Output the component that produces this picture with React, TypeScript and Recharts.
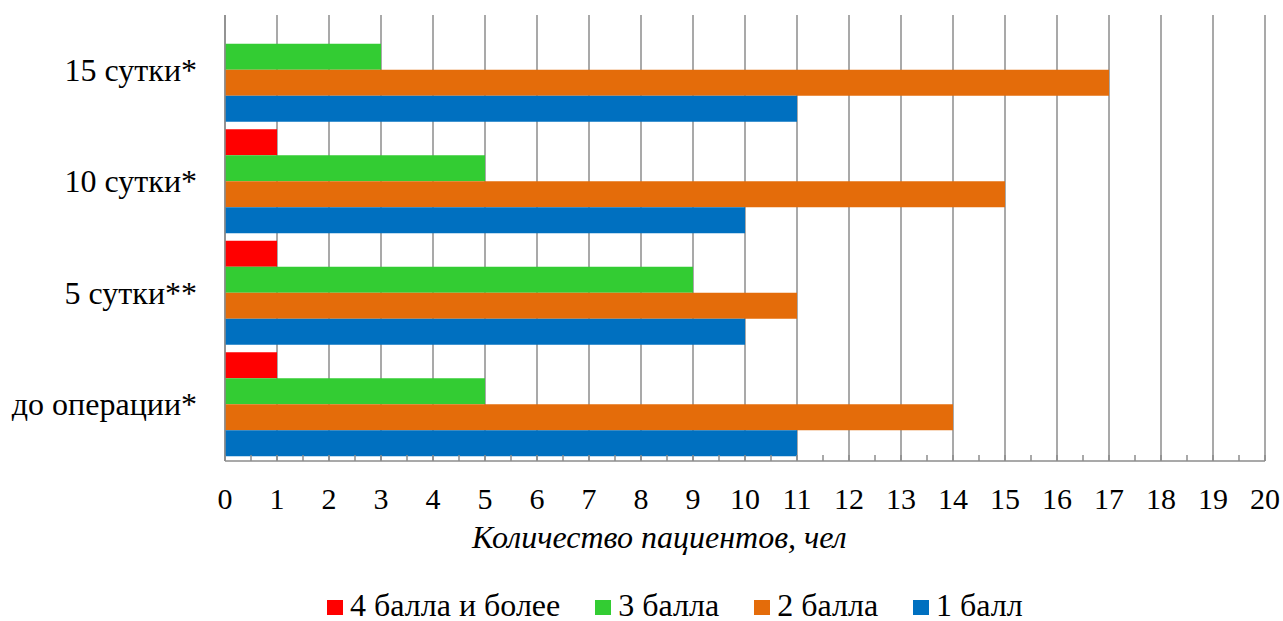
import React from "react";
import { BarChart, Bar, XAxis, YAxis, CartesianGrid } from "recharts";

if (typeof document !== "undefined") document.body.style.margin = "0";

const categories = ["15 сутки*", "10 сутки*", "5 сутки**", "до операции*"];
const seriesNames = ["4 балла и более", "3 балла", "2 балла", "1 балл"];
const seriesColors = ["#FF0000", "#33CC33", "#E46C0A", "#0070C0"];
const score4 = [0, 1, 1, 1];
const score3 = [3, 5, 9, 5];
const score2 = [17, 15, 11, 14];
const score1 = [11, 10, 10, 11];
const xMax = 20;
const xTicks = Array.from({ length: 41 }, (_, i) => i / 2);
const xLabelTicks = Array.from({ length: 21 }, (_, i) => i);
const xAxisTitle = "Количество пациентов, чел";

const keys = ["s4", "s3", "s2", "s1"];
const data = categories.map((c, i) => ({
  cat: c,
  s4: score4[i],
  s3: score3[i],
  s2: score2[i],
  s1: score1[i],
}));

const FONT = "'Liberation Serif', Tinos, 'Times New Roman', monospace";
const GRID = "#8C8C8C";

const XTick = (props: any) => {
  const { x, y, payload } = props;
  const v = payload.value;
  const isInt = Number.isInteger(v);
  return (
    <g>
      <line x1={x} x2={x} y1={y} y2={y - 6} stroke={GRID} strokeWidth={1.5} />
      {isInt && (
        <text x={x} y={y + 48} textAnchor="middle" style={{ fontFamily: FONT, fontSize: 30 }} fill="#000">
          {v}
        </text>
      )}
    </g>
  );
};

const YTick = (props: any) => {
  const { x, y, payload } = props;
  return (
    <text x={x - 20} y={y + 10} textAnchor="end" style={{ fontFamily: FONT, fontSize: 32 }} fill="#000">
      {payload.value}
    </text>
  );
};

export default function App() {
  return (
    <div style={{ position: "relative", width: 1283, height: 621, background: "#fff", fontFamily: FONT }}>
      <BarChart
        width={1283}
        height={621}
        data={data}
        layout="vertical"
        margin={{ top: 15, right: 18, bottom: 130, left: 0 }}
        barCategoryGap="2.5%"
        barGap={0}
      >
        <CartesianGrid
          horizontal={false}
          stroke={GRID}
          strokeWidth={1.5}
          verticalCoordinatesGenerator={({ offset }: any) =>
            xLabelTicks.map((v) => offset.left + (offset.width * v) / xMax)
          }
        />
        <XAxis
          type="number"
          domain={[0, xMax]}
          ticks={xTicks}
          interval={0}
          height={30}
          tickSize={0}
          tickMargin={0}
          tickLine={false}
          axisLine={{ stroke: GRID, strokeWidth: 1.5 }}
          tick={<XTick />}
        />
        <YAxis
          type="category"
          dataKey="cat"
          width={225}
          tickLine={false}
          axisLine={{ stroke: GRID, strokeWidth: 1.5 }}
          tick={<YTick />}
        />
        {keys.map((k, i) => (
          <Bar key={k} dataKey={k} name={seriesNames[i]} fill={seriesColors[i]} isAnimationActive={false} />
        ))}
      </BarChart>
      <div
        style={{
          position: "absolute",
          left: 472,
          top: 519,
          fontSize: 32,
          fontStyle: "italic",
          whiteSpace: "nowrap",
          lineHeight: "36px",
        }}
      >
        {xAxisTitle}
      </div>
      <div
        style={{
          position: "absolute",
          left: 327,
          top: 587,
          display: "flex",
          alignItems: "center",
          fontSize: 32,
          whiteSpace: "nowrap",
          lineHeight: "36px",
        }}
      >
        {seriesNames.map((n, i) => (
          <div key={n} style={{ display: "flex", alignItems: "center", marginRight: 35 }}>
            <span
              style={{
                display: "inline-block",
                width: 16,
                height: 15,
                background: seriesColors[i],
                marginRight: 7,
                position: "relative",
                top: 2,
              }}
            />
            <span>{n}</span>
          </div>
        ))}
      </div>
    </div>
  );
}
